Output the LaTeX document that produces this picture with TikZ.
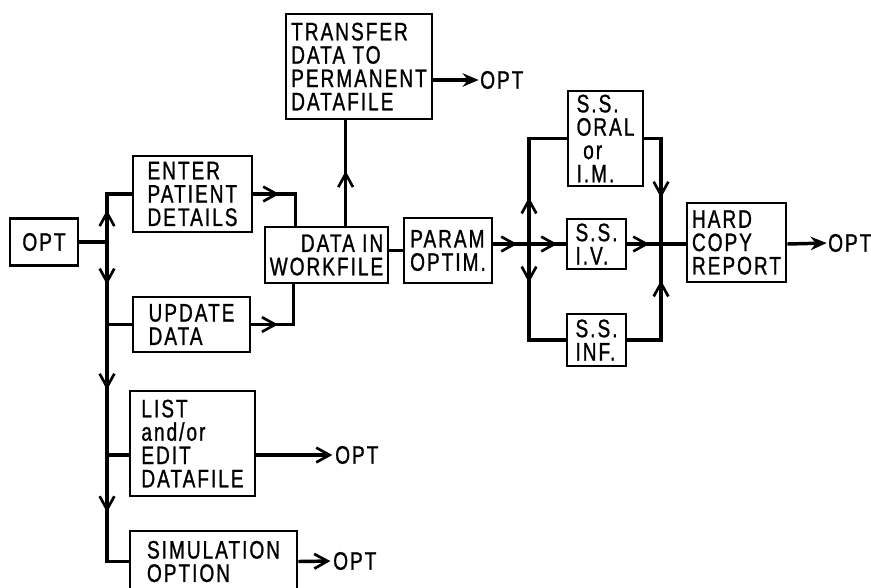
\documentclass[tikz,border=0pt]{standalone}
\usepackage{fontspec}
\setmainfont[FakeStretch=0.75,LetterSpace=8,FakeBold=1]{Liberation Sans}
\usetikzlibrary{arrows.meta,decorations.markings,calc}
\newcommand\lblfont{\fontsize{19}{17.5}\selectfont}
\begin{document}
\begin{tikzpicture}[x=0.75pt,y=-0.75pt,
  bx/.style 2 args={draw, line width=2pt, minimum width=#1*0.75pt, minimum height=#2*0.75pt, inner sep=0pt, align=left, font=\lblfont},
  lbl/.style={anchor=west, inner sep=0pt, font=\lblfont},
  ln/.style={line width=2.6pt},
  barb/.tip={Straight Barb[length=10pt,width=11pt,line width=2pt]},
  ma/.style={postaction={decorate}, decoration={markings, mark=at position #1 with {\arrow{barb}}}},
  ma2/.style 2 args={postaction={decorate}, decoration={markings, mark=at position #1 with {\arrow{barb}}, mark=at position #2 with {\arrow{barb}}}}]
\useasboundingbox (0,0) rectangle (871,587);
\fill[white] (0,0) rectangle (871,587);
% boxes
\node[bx={68}{47}] (opt) at (44,242) {OPT};
\node[bx={119}{76}] (enter) at (192.5,194) {ENTER\\PATIENT\\DETAILS};
\node[bx={117}{55}] (update) at (191.5,324.5) {UPDATE\\DATA};
\node[bx={125}{105}] (list) at (192.5,443.5) {LIST\\and/or\\EDIT\\DATAFILE};
\node[bx={167}{61}] (sim) at (213.5,561.5) {SIMULATION\\OPTION};
\node[bx={123}{56}, align=right] (work) at (326.5,255) {DATA IN\\WORKFILE};
\node[bx={146}{105}] (transfer) at (359,66.5) {TRANSFER\\DATA TO\\PERMANENT\\DATAFILE};
\node[bx={88}{65}] (param) at (448,250.5) {PARAM\\OPTIM.};
\node[bx={75}{95}] (oral) at (605.5,138.5) {S.S.\\ORAL\\\hspace{5pt}or\\I.M.};
\node[bx={59}{50}] (iv) at (596.5,244) {S.S.\\I.V.};
\node[bx={59}{52}] (inf) at (596.5,340) {S.S.\\INF.};
\node[bx={99}{79}] (hard) at (736.5,242.5) {HARD\\COPY\\REPORT};
% OPT labels
\node[lbl] (oT) at (480,80) {OPT};
\node[lbl] (oL) at (335,455) {OPT};
\node[lbl] (oS) at (333,561) {OPT};
\node[lbl] (oH) at (828,243) {OPT};
% left bus
\coordinate (jL) at (107,242);
\coordinate (yl) at (0,455);
\coordinate (y80) at (0,80);
\coordinate (jU) at (jL |- update.west);
\coordinate (jLi) at (jL |- yl);
\draw[ln] (opt.east) -- (jL);
\draw[ln, ma=24pt] (jL) |- (enter.west);
\draw[ln, ma=32pt] (jL) |- (update.west);
\draw[ln, ma=49pt] (jU) |- (list.west |- yl);
\draw[ln, ma=43pt] (jLi) |- (sim.west);
% to workfile
\coordinate (wa) at ($(work.north west)+(32,0)$);
\coordinate (wb) at ($(work.south west)+(30,0)$);
\coordinate (wt) at ($(work.north west)+(82,0)$);
\draw[ln, ma=19.5pt] (enter.east) -| (wa);
\draw[ln, ma=20pt] (update.east) -| (wb);
\draw[ln, ma=41pt] (wt) -- (wt |- transfer.south);
\draw[ln, -{Stealth[length=12pt,width=10pt]}, shorten >=1pt] (transfer.east |- y80) -- (oT.west);
\draw[ln] (work.east |- param.west) -- (param.west);
% right part
\draw[ln, ma2={18pt}{48pt}] (param.east |- iv.west) -- (iv.west);
\coordinate (jR) at (529,244);
\coordinate (jM) at (661,244);
\draw[ln, ma=35pt] (jR) |- (oral.west);
\draw[ln, ma=29pt] (jR) |- (inf.west);
\draw[ln, ma=57pt] (oral.east) -| (jM);
\draw[ln, ma=70pt] (inf.east) -| (jM);
\draw[ln, ma=16.5pt] (iv.east) -- (hard.west |- iv.east);
\draw[ln, -{Stealth[length=12pt,width=10pt]}, shorten >=1pt] (hard.east |- iv.east) -- (oH.west);
\draw[ln, -{barb}, shorten >=2pt] (list.east |- yl) -- (oL.west);
\draw[ln, -{barb}, shorten >=2pt] (sim.east) -- (oS.west);
\end{tikzpicture}
\end{document}
